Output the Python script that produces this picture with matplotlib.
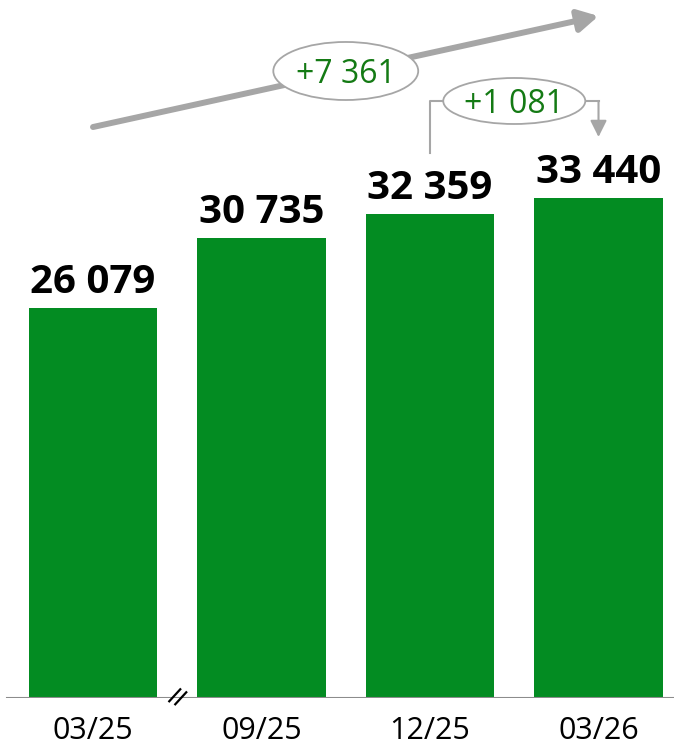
import numpy as np
import matplotlib.pyplot as plt
from matplotlib.patches import Ellipse

# data
dates = ["03/25", "09/25", "12/25", "03/26"]
values = [26079, 30735, 32359, 33440]

GREEN = "#038c22"
GREY = "#a6a6a6"
TXT_GREEN = "#147a14"
FONT = "Open Sans"


def fmt(v):
    return "{:,}".format(v).replace(",", " ")


fig = plt.figure(figsize=(6.74, 7.46), dpi=100)
ax = fig.add_axes([0, 0.0643, 1, 0.9357])

x = np.arange(len(values))
ax.bar(x, values, width=0.76, color=GREEN, zorder=2)
ax.set_xlim(-0.552, 3.448)
ax.set_ylim(0, 46673)

# pixel -> data helpers
SX = 168.5     # px per x unit
SY = 0.014955  # px per y unit

for xi, v in zip(x, values):
    ax.annotate(fmt(v), (xi, v), xytext=(0, 11), textcoords="offset points",
                ha="center", va="baseline", fontsize=29, fontweight="bold",
                family=FONT, color="black")

# overall growth arrow
ax.annotate("", xy=(3, 45600), xytext=(0, 38180),
            arrowprops=dict(arrowstyle="-|>,head_length=0.6,head_width=0.33",
                            mutation_scale=20, color=GREY, lw=4.3,
                            shrinkA=0, shrinkB=0))
ell = Ellipse((1.5, 41926), width=0.86, height=3880, fc="white", ec=GREY,
              lw=1.3, zorder=3)
ax.add_patch(ell)
ax.text(1.5, 41926, "+" + fmt(values[-1] - values[0]), ha="center",
        va="center_baseline", fontsize=23, family=FONT, color=TXT_GREEN,
        zorder=4)

# quarter change bracket
ax.plot([2, 2, 3], [36443, 39920, 39920], color=GREY, lw=1.5, zorder=2)
ax.annotate("", xy=(3, 37513), xytext=(3, 39920),
            arrowprops=dict(arrowstyle="-|>,head_length=1.0,head_width=0.5",
                            mutation_scale=10, color=GREY, lw=1.5,
                            shrinkA=0, shrinkB=0))
ell2 = Ellipse((2.5, 39920), width=0.843, height=3076, fc="white", ec=GREY,
               lw=1.3, zorder=3)
ax.add_patch(ell2)
ax.text(2.5, 39920, "+" + fmt(values[-1] - values[-2]), ha="center",
        va="center_baseline", fontsize=23, family=FONT, color=TXT_GREEN,
        zorder=4)

# baseline and axis break
ax.axhline(0, xmin=0.01, xmax=1, color="#8c8c8c", lw=1.5, zorder=3)
for ox in (-5.5, 0.5):
    xs = [0.5 + (ox - 2.5) / SX, 0.5 + (ox + 8.5) / SX]
    ys = [-(6 + ox / 2) / SY, (6 - ox / 2) / SY]
    ax.plot(xs, ys, color="black", lw=1.6, zorder=4, clip_on=False)

ax.set_xticks(x, dates, fontsize=22, family=FONT)
ax.tick_params(length=0, pad=13)
ax.set_yticks([])
for s in ax.spines.values():
    s.set_visible(False)

fig.savefig("out.png", dpi=100)
